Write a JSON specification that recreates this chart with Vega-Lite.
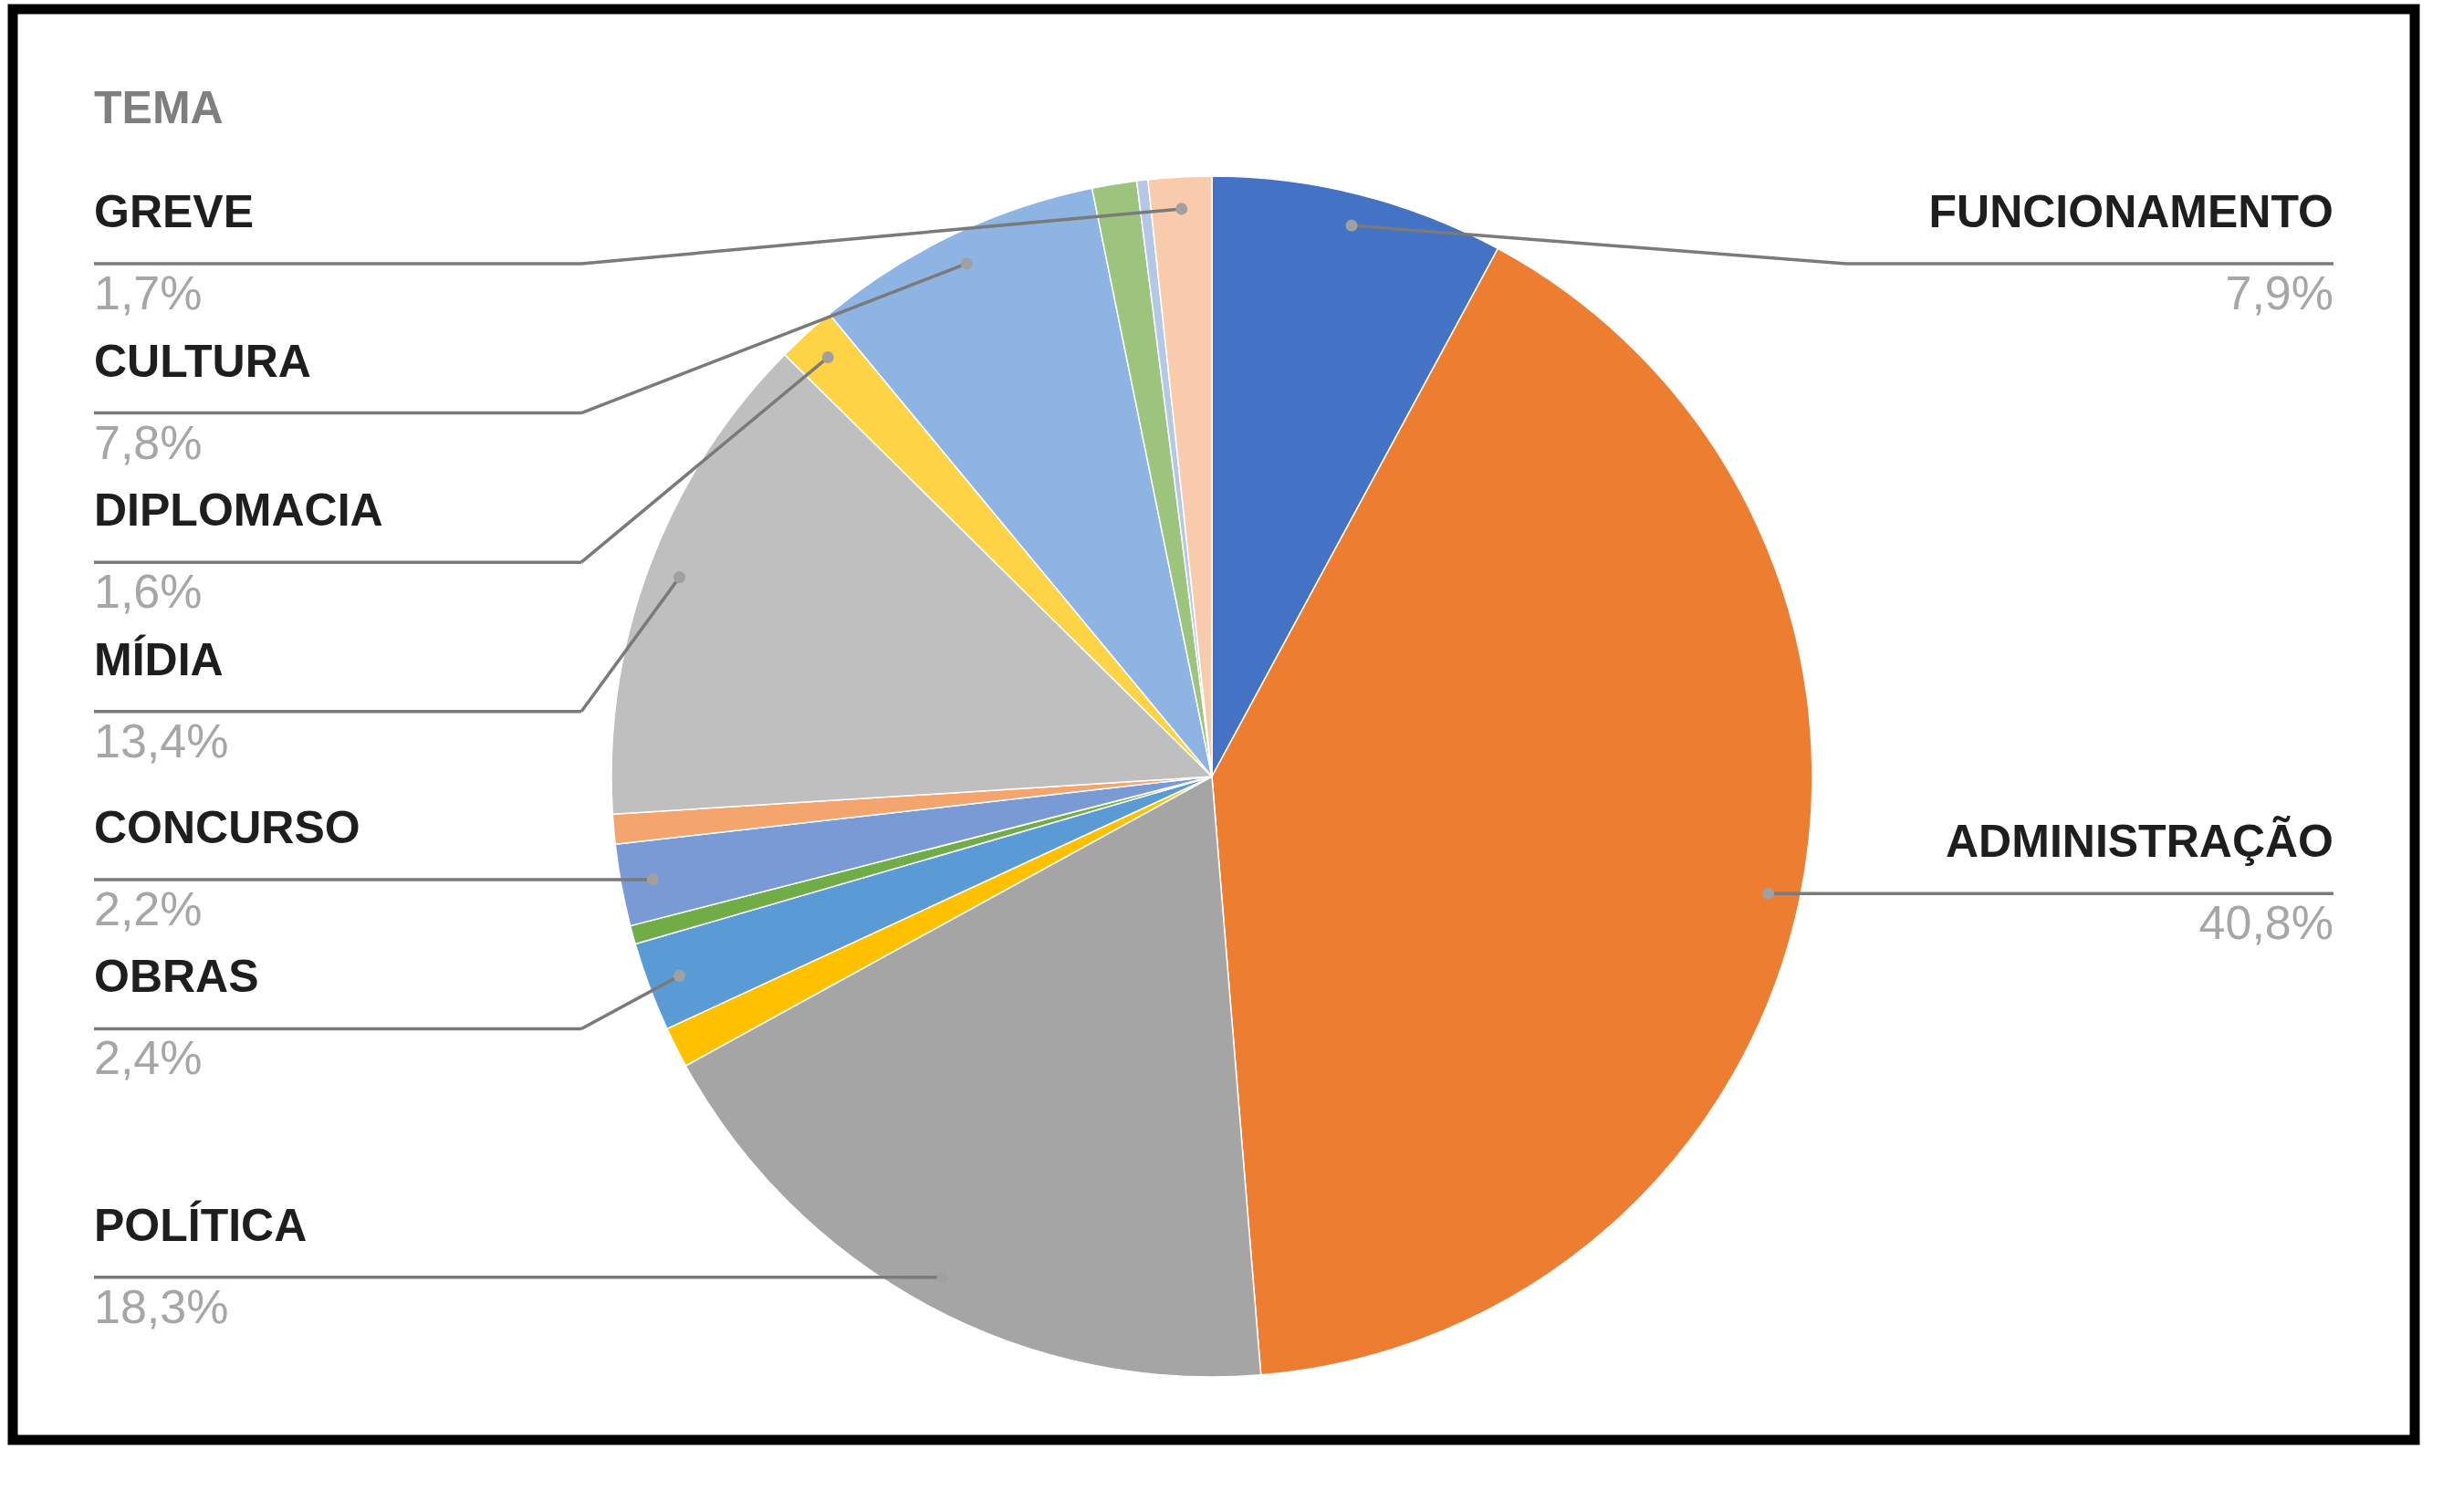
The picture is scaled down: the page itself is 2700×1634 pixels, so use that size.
{
  "$schema": "https://vega.github.io/schema/vega-lite/v6.json",
  "width": 2632,
  "height": 1568,
  "autosize": {"type": "none"},
  "padding": {"left": 14, "top": 10, "right": 54, "bottom": 56},
  "background": "white",
  "config": {
    "view": {"stroke": "#000000", "strokeWidth": 11},
    "text": {"font": "Liberation Sans"}
  },
  "title": {
    "text": "TEMA",
    "anchor": "start",
    "frame": "group",
    "orient": "top",
    "offset": -160,
    "dx": 89,
    "baseline": "middle",
    "font": "Liberation Sans",
    "fontSize": 50,
    "fontWeight": "bold",
    "color": "#7F7F7F"
  },
  "data": {
    "values": [
      {"tema": "FUNCIONAMENTO", "valor": 7.9},
      {"tema": "ADMINISTRAÇÃO", "valor": 40.8},
      {"tema": "POLÍTICA", "valor": 18.3},
      {"tema": "OUTRO 1", "valor": 1.1},
      {"tema": "OBRAS", "valor": 2.4},
      {"tema": "OUTRO 2", "valor": 0.5},
      {"tema": "CONCURSO", "valor": 2.2},
      {"tema": "OUTRO 3", "valor": 0.8},
      {"tema": "MÍDIA", "valor": 13.4},
      {"tema": "DIPLOMACIA", "valor": 1.6},
      {"tema": "CULTURA", "valor": 7.8},
      {"tema": "OUTRO 4", "valor": 1.2},
      {"tema": "OUTRO 5", "valor": 0.3},
      {"tema": "GREVE", "valor": 1.7}
    ]
  },
  "transform": [
    {"window": [{"op": "row_number", "as": "i"}]},
    {"joinaggregate": [{"op": "sum", "field": "valor", "as": "total"}]},
    {"window": [{"op": "sum", "field": "valor", "as": "cum"}], "sort": [{"field": "i", "order": "ascending"}], "frame": [null, 0]},
    {"calculate": "2 * PI * (datum.cum - datum.valor / 2) / datum.total", "as": "ang"},
    {"calculate": "623 * sin(datum.ang)", "as": "px"},
    {"calculate": "623 * cos(datum.ang)", "as": "py"},
    {"calculate": "replace(format(datum.valor, '.1f'), '.', ',') + '%'", "as": "pct"}
  ],
  "layer": [
    {
      "mark": {"type": "arc", "outerRadius": 658, "stroke": "#FFFFFF", "strokeWidth": 1.5},
      "encoding": {
        "x": {"datum": 0, "type": "quantitative", "scale": {"domain": [-1314, 1318], "nice": false, "zero": false}, "axis": null},
        "y": {"datum": 0, "type": "quantitative", "scale": {"domain": [-727, 841], "nice": false, "zero": false}, "axis": null},
        "theta": {"field": "valor", "type": "quantitative", "stack": true},
        "order": {"field": "i", "type": "quantitative"},
        "color": {
          "field": "tema",
          "type": "nominal",
          "legend": null,
          "scale": {
            "domain": ["FUNCIONAMENTO", "ADMINISTRAÇÃO", "POLÍTICA", "OUTRO 1", "OBRAS", "OUTRO 2", "CONCURSO", "OUTRO 3", "MÍDIA", "DIPLOMACIA", "CULTURA", "OUTRO 4", "OUTRO 5", "GREVE"],
            "range": ["#4472C4", "#ED7D31", "#A5A5A5", "#FFC000", "#5B9BD5", "#70AD47", "#7A9AD6", "#F4A46D", "#BFBFBF", "#FFD346", "#8DB4E2", "#9DC47C", "#B4C7E7", "#F8CBAD"]
          }
        }
      }
    },
    {
      "transform": [
        {"filter": "datum.valor >= 1.5"},
        {"calculate": "datum.px < 0 ? 'esq' : 'dir'", "as": "lado"},
        {"window": [{"op": "row_number", "as": "k"}], "groupby": ["lado"], "sort": [{"field": "py", "order": "descending"}]},
        {"calculate": "-datum.py - datum.k * 163.6", "as": "a"},
        {"window": [{"op": "max", "field": "a", "as": "amax"}], "groupby": ["lado"], "sort": [{"field": "py", "order": "descending"}], "frame": [null, 0]},
        {"calculate": "-(datum.k * 163.6 + max(-725.6, datum.amax))", "as": "ly"},
        {"calculate": "datum.lado == 'esq' ? -1225 : 1229", "as": "lxo"},
        {"calculate": "datum.lado == 'esq' ? -691 : 695", "as": "lxe"}
      ],
      "layer": [
        {
          "mark": {"type": "rule", "color": "#7A7A7A", "strokeWidth": 3.5},
          "encoding": {
            "x": {"field": "px", "type": "quantitative", "scale": {"domain": [-1314, 1318], "nice": false, "zero": false}, "axis": null},
            "y": {"field": "py", "type": "quantitative", "scale": {"domain": [-727, 841], "nice": false, "zero": false}, "axis": null},
            "x2": {"field": "lxe"},
            "y2": {"field": "ly"}
          }
        },
        {
          "mark": {"type": "rule", "color": "#7A7A7A", "strokeWidth": 3.5},
          "encoding": {
            "x": {"field": "lxe", "type": "quantitative", "axis": null},
            "x2": {"field": "lxo"},
            "y": {"field": "ly", "type": "quantitative", "axis": null}
          }
        },
        {
          "mark": {"type": "point", "shape": "circle", "filled": true, "size": 170, "color": "#A0A0A0", "opacity": 1},
          "encoding": {
            "x": {"field": "px", "type": "quantitative", "axis": null},
            "y": {"field": "py", "type": "quantitative", "axis": null}
          }
        },
        {
          "transform": [{"filter": "datum.lado == 'esq'"}],
          "mark": {"type": "text", "align": "left", "baseline": "middle", "dy": -55, "fontSize": 50, "fontWeight": "bold", "color": "#1E1E1E"},
          "encoding": {
            "x": {"field": "lxo", "type": "quantitative", "axis": null},
            "y": {"field": "ly", "type": "quantitative", "axis": null},
            "text": {"field": "tema"}
          }
        },
        {
          "transform": [{"filter": "datum.lado == 'dir'"}],
          "mark": {"type": "text", "align": "right", "baseline": "middle", "dy": -55, "fontSize": 50, "fontWeight": "bold", "color": "#1E1E1E"},
          "encoding": {
            "x": {"field": "lxo", "type": "quantitative", "axis": null},
            "y": {"field": "ly", "type": "quantitative", "axis": null},
            "text": {"field": "tema"}
          }
        },
        {
          "transform": [{"filter": "datum.lado == 'esq'"}],
          "mark": {"type": "text", "align": "left", "baseline": "middle", "dy": 34, "fontSize": 52, "color": "#A6A6A6"},
          "encoding": {
            "x": {"field": "lxo", "type": "quantitative", "axis": null},
            "y": {"field": "ly", "type": "quantitative", "axis": null},
            "text": {"field": "pct"}
          }
        },
        {
          "transform": [{"filter": "datum.lado == 'dir'"}],
          "mark": {"type": "text", "align": "right", "baseline": "middle", "dy": 34, "fontSize": 52, "color": "#A6A6A6"},
          "encoding": {
            "x": {"field": "lxo", "type": "quantitative", "axis": null},
            "y": {"field": "ly", "type": "quantitative", "axis": null},
            "text": {"field": "pct"}
          }
        }
      ]
    }
  ]
}
